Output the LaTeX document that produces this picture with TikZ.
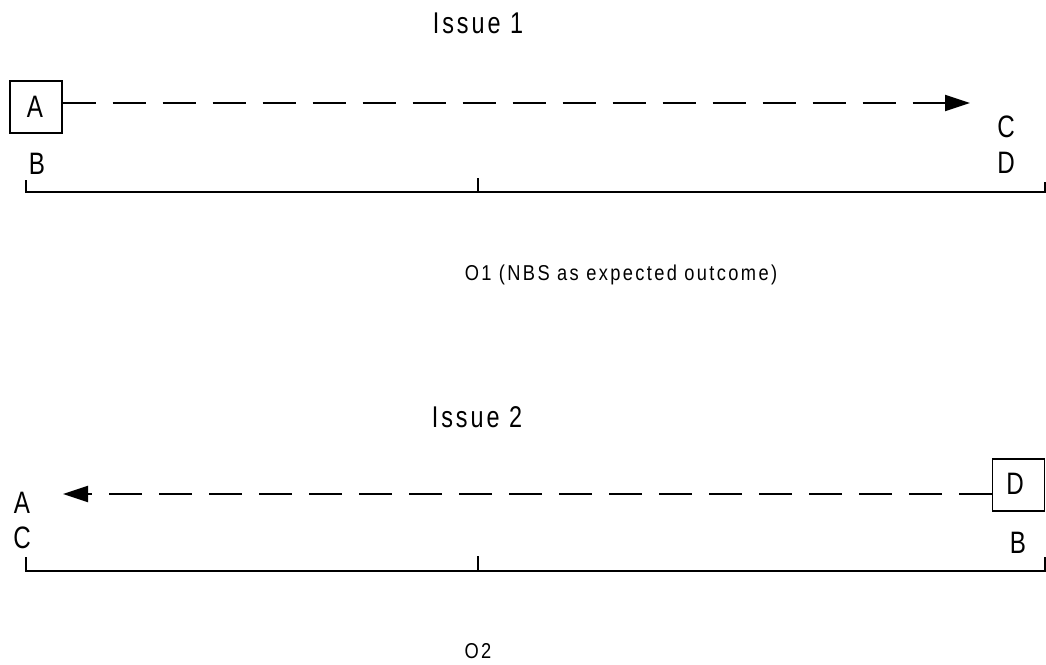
\documentclass[tikz,border=0pt]{standalone}
\usepackage{fontspec}
\setmainfont{Liberation Sans}
\newfontfamily\narfont[FakeStretch=0.78,LetterSpace=10]{Liberation Sans}
\newfontfamily\smfont[FakeStretch=0.85,LetterSpace=11]{Liberation Sans}
\usetikzlibrary{arrows.meta}
\tikzset{
  lbl/.style={font=\narfont\fontsize{31}{33}\selectfont, inner sep=0pt, anchor=base},
  title/.style={font=\narfont\fontsize{30}{33}\selectfont, inner sep=0pt, anchor=base},
  small/.style={font=\smfont\fontsize{21.5}{24}\selectfont, inner sep=0pt, anchor=base},
  box/.style={draw, line width=1.4pt, minimum width=52pt, minimum height=52pt, inner sep=0pt},
  move/.style={line width=2pt, dash pattern=on 33pt off 17pt, -{Triangle[length=25pt,width=16pt]}},
  axis/.style={line width=2pt},
}
\begin{document}
\begin{tikzpicture}[x=1pt,y=-1pt]
\useasboundingbox (0,0) rectangle (1046,664);
% Issue 1
\node[title] (t1) at (478,33) {Issue 1};
\node[box] (A1) at (36,107) {};
\node[lbl] (a1) at (35,117) {A};
\coordinate (tip1) at (970,103);
\draw[move] (A1.east |- tip1) -- (tip1);
\node[lbl] (c1) at (1006,137) {C};
\node[lbl] (d1) at (1006,173) {D};
\node[lbl] (b1) at (37,174) {B};
\coordinate (l1) at (26,192);
\coordinate (r1) at (1045,192);
\coordinate (m1) at (478,192);
\draw[axis] (26,180) -- (l1) -- (r1) -- (1045,182);
\draw[axis] (m1) -- (478,178);
\node[small] (o1) at (621,280) {O1 (NBS as expected outcome)};
% Issue 2
\node[title] (t2) at (477,427) {Issue 2};
\node[box] (D2) at (1018.5,485) {};
\node[lbl] (d2) at (1015,494) {D};
\coordinate (tip2) at (63,494);
\draw[move] (D2.west |- tip2) -- (tip2);
\node[lbl] (a2) at (22,513) {A};
\node[lbl] (c2) at (22,548) {C};
\node[lbl] (b2) at (1018,553) {B};
\coordinate (l2) at (26,571);
\coordinate (r2) at (1045,571);
\coordinate (m2) at (478,571);
\draw[axis] (26,557) -- (l2) -- (r2) -- (1045,557);
\draw[axis] (m2) -- (478,556);
\node[small] (o2) at (478,658) {O2};
\end{tikzpicture}
\end{document}
